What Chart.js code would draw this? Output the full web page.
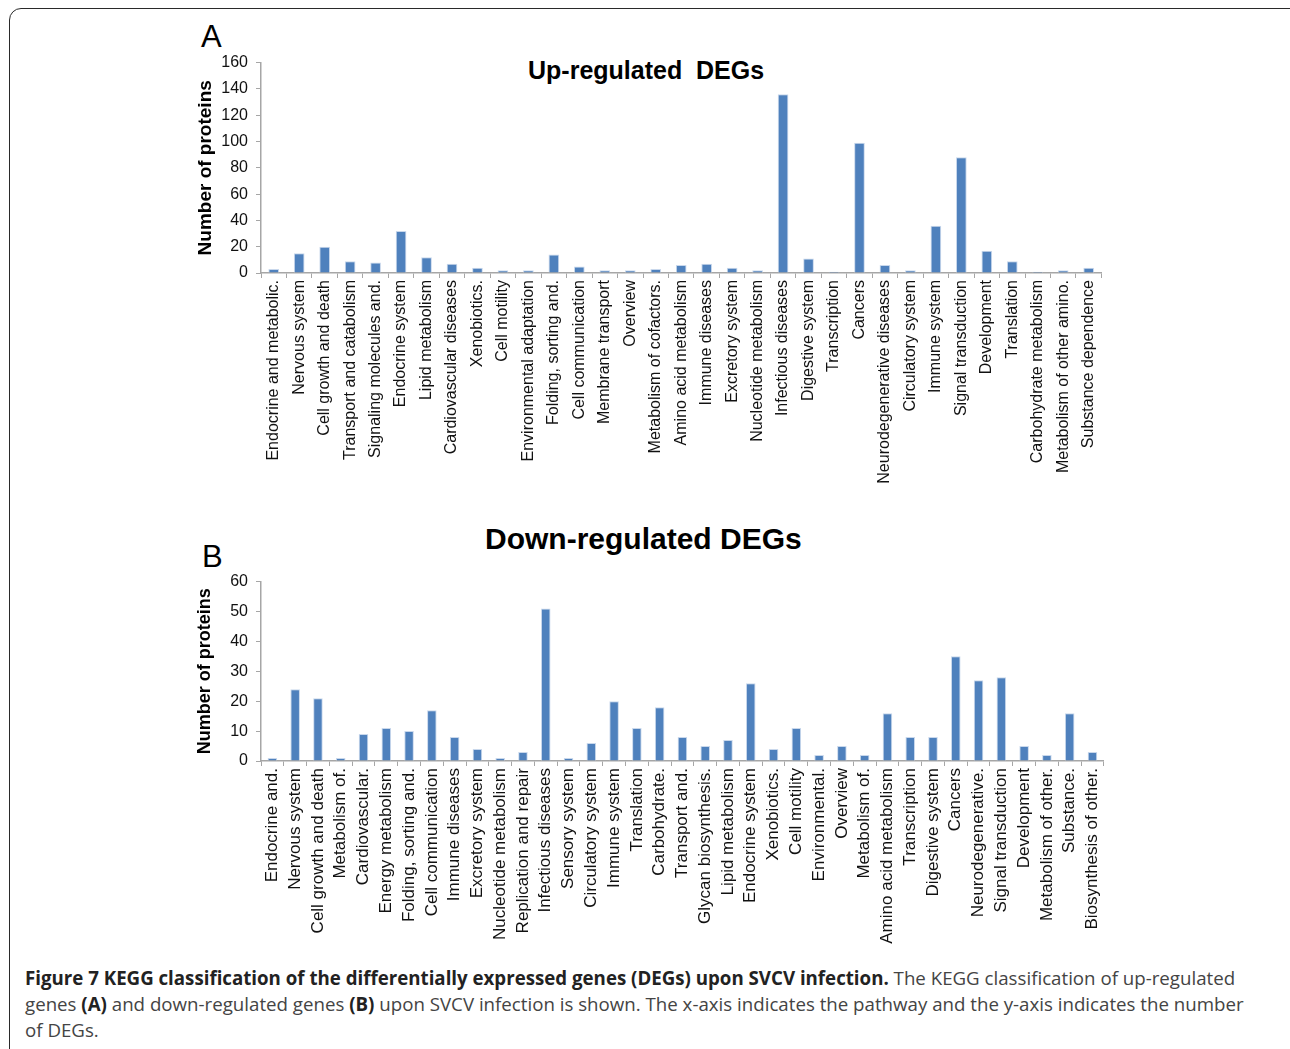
<!DOCTYPE html>
<html>
<head>
<meta charset="utf-8">
<script src="https://cdn.jsdelivr.net/npm/chart.js@4.4.0/dist/chart.umd.min.js"></script>
<style>
  body { margin: 0; background: #fff; width: 1290px; height: 1049px; overflow: hidden; position: relative; font-family: "Liberation Sans", Arial, sans-serif; }
  .frame { position: absolute; left: 9px; top: 8px; width: 1300px; height: 1100px; border: 1.5px solid #2a2a2a; border-radius: 12px; }
  canvas { position: absolute; }
  .lbl { position: absolute; color: #000; white-space: nowrap; }
  .caption { position: absolute; left: 25px; top: 965px; font-family: "Open Sans", "Noto Sans", sans-serif; font-size: 18.7px; line-height: 26px; color: #444; letter-spacing: 0; white-space: nowrap; }
  .caption b { color: #222; }
</style>
</head>
<body>
<div class="frame"></div>

<div class="lbl" style="left:201px; top:19px; font-size:31px;">A</div>
<div class="lbl" style="left:528px; top:56px; font-size:25px; font-weight:bold;">Up-regulated&nbsp; DEGs</div>
<canvas id="chartUp" width="920" height="460" style="left:190px; top:45px;"></canvas>

<div class="lbl" style="left:202px; top:539px; font-size:31px;">B</div>
<div class="lbl" style="left:485px; top:522px; font-size:30px; font-weight:bold;">Down-regulated DEGs</div>
<canvas id="chartDown" width="925" height="390" style="left:190px; top:564px;"></canvas>

<div class="caption">
<b>Figure 7 KEGG classification of the differentially expressed genes (DEGs) upon SVCV infection.</b> The KEGG classification of up-regulated<br>
genes <b>(A)</b> and down-regulated genes <b>(B)</b> upon SVCV infection is shown. The x-axis indicates the pathway and the y-axis indicates the number<br>
of DEGs.
</div>

<script>
// Up-regulated DEGs (panel A)
const upLabels = [
    'Endocrine and metabolic.', 'Nervous system', 'Cell growth and death', 'Transport and catabolism',
    'Signaling molecules and.', 'Endocrine system', 'Lipid metabolism', 'Cardiovascular diseases',
    'Xenobiotics.', 'Cell motility', 'Environmental adaptation', 'Folding, sorting and.',
    'Cell communication', 'Membrane transport', 'Overview', 'Metabolism of cofactors.',
    'Amino acid metabolism', 'Immune diseases', 'Excretory system', 'Nucleotide metabolism',
    'Infectious diseases', 'Digestive system', 'Transcription', 'Cancers',
    'Neurodegenerative diseases', 'Circulatory system', 'Immune system', 'Signal transduction',
    'Development', 'Translation', 'Carbohydrate metabolism', 'Metabolism of other amino.',
    'Substance dependence'
];
const upValues = [
    3, 15, 20, 9, 8, 32, 12, 7, 4, 2, 2, 14, 5, 2, 2, 3,
    6, 7, 4, 2, 136, 11, 1, 99, 6, 2, 36, 88, 17, 9, 1, 2, 4
];
const upTicks = { max: 160, step: 20 };

// Down-regulated DEGs (panel B)
const downLabels = [
    'Endocrine and.', 'Nervous system', 'Cell growth and death', 'Metabolism of.',
    'Cardiovascular.', 'Energy metabolism', 'Folding, sorting and.', 'Cell communication',
    'Immune diseases', 'Excretory system', 'Nucleotide metabolism', 'Replication and repair',
    'Infectious diseases', 'Sensory system', 'Circulatory system', 'Immune system',
    'Translation', 'Carbohydrate.', 'Transport and.', 'Glycan biosynthesis.',
    'Lipid metabolism', 'Endocrine system', 'Xenobiotics.', 'Cell motility',
    'Environmental.', 'Overview', 'Metabolism of.', 'Amino acid metabolism',
    'Transcription', 'Digestive system', 'Cancers', 'Neurodegenerative.',
    'Signal transduction', 'Development', 'Metabolism of other.', 'Substance.',
    'Biosynthesis of other.'
];
const downValues = [
    1, 24, 21, 1, 9, 11, 10, 17, 8, 4, 1, 3, 51, 1, 6, 20, 11, 18, 8,
    5, 7, 26, 4, 11, 2, 5, 2, 16, 8, 8, 35, 27, 28, 5, 2, 16, 3
];
const downTicks = { max: 60, step: 10 };

const BAR_BLUE = '#4f81bd';
const AXIS_GRAY = '#a6a6a6';

function makeChart(id, labels, values, ticks, opts) {
    const ctx = document.getElementById(id).getContext('2d');
    return new Chart(ctx, {
        type: 'bar',
        data: {
            labels: labels,
            datasets: [{
                data: values,
                backgroundColor: BAR_BLUE,
                borderColor: '#c9d8ec',
                borderWidth: { top: 1, left: 1, right: 1, bottom: 0 },
                barPercentage: 0.42,
                categoryPercentage: 1.0
            }]
        },
        options: {
            responsive: false,
            animation: false,
            layout: { padding: opts.padding },
            plugins: { legend: { display: false }, tooltip: { enabled: false } },
            scales: {
                x: {
                    offset: true,
                    grid: { offset: true, drawOnChartArea: false, tickLength: 5, color: AXIS_GRAY },
                    border: { color: AXIS_GRAY, width: 1.5 },
                    ticks: {
                        autoSkip: false, maxRotation: 90, minRotation: 90, padding: 2,
                        color: '#111', font: { family: 'Liberation Sans', size: opts.xFont }
                    },
                    afterFit: (scale) => { scale.height = opts.xHeight; }
                },
                y: {
                    min: 0, max: ticks.max,
                    grid: { drawOnChartArea: false, tickLength: 5, color: AXIS_GRAY },
                    border: { color: AXIS_GRAY, width: 1.5 },
                    ticks: {
                        stepSize: ticks.step, padding: 8,
                        color: '#111', font: { family: 'Liberation Sans', size: 16 }
                    },
                    title: {
                        display: true, text: 'Number of proteins', color: '#000',
                        font: { family: 'Liberation Sans', size: opts.titleFont, weight: 'bold' }
                    },
                    afterFit: (scale) => { scale.width = 71; }
                }
            }
        }
    });
}

makeChart('chartUp', upLabels, upValues, upTicks, {
    padding: { top: 7, right: 8, bottom: 0, left: 0 },
    xHeight: 232, xFont: 16, titleFont: 19
});

makeChart('chartDown', downLabels, downValues, downTicks, {
    padding: { top: 11, right: 10, bottom: 0, left: 0 },
    xHeight: 193, xFont: 17, titleFont: 18
});
</script>
</body>
</html>
